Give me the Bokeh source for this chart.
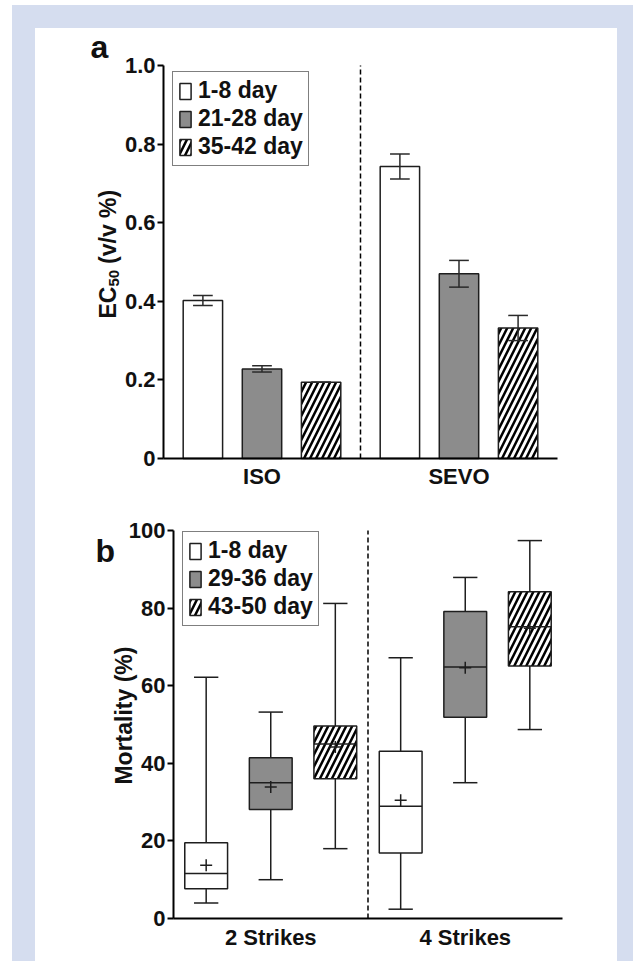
import math
from bokeh.plotting import figure
from bokeh.models import (Range1d, FixedTicker, Legend, LegendItem, Label)
from bokeh.layouts import column
from bokeh.embed import file_html
from bokeh.resources import INLINE

FONT = "Liberation Sans"
EDGE = "#1e1e1e"
GRAY = "#8c8c8c"
FRAME_BG = "#d5ddef"
TXT = "#111111"

# ---------------- Panel a data ----------------
drugs = ["ISO", "SEVO"]
ages_a = ["1-8 day", "21-28 day", "35-42 day"]
ec50_1_8 = [0.402, 0.743]
ec50_21_28 = [0.228, 0.470]
ec50_35_42 = [0.194, 0.332]
sem_1_8 = [0.013, 0.032]
sem_21_28 = [0.008, 0.034]
sem_35_42 = [0.0, 0.032]
ticks_a = [0, 0.2, 0.4, 0.6, 0.8, 1.0]
tick_labels_a = ["0", "0.2", "0.4", "0.6", "0.8", "1.0"]

# ---------------- Panel b data ----------------
strikes = ["2 Strikes", "4 Strikes"]
ages_b = ["1-8 day", "29-36 day", "43-50 day"]
min_1_8 = [4.0, 2.4]
q1_1_8 = [7.7, 16.9]
med_1_8 = [11.6, 28.9]
q3_1_8 = [19.5, 43.1]
max_1_8 = [62.2, 67.2]
mean_1_8 = [13.7, 30.5]
min_29_36 = [10.0, 35.0]
q1_29_36 = [28.1, 51.9]
med_29_36 = [35.0, 64.8]
q3_29_36 = [41.4, 79.1]
max_29_36 = [53.2, 87.9]
mean_29_36 = [33.9, 64.6]
min_43_50 = [18.0, 48.7]
q1_43_50 = [36.0, 65.1]
med_43_50 = [45.0, 75.2]
q3_43_50 = [49.6, 84.2]
max_43_50 = [81.2, 97.4]
mean_43_50 = [44.2, 74.8]
ticks_b = [0, 20, 40, 60, 80, 100]

fills = ["white", GRAY, "white"]
hatches = [None, None, "/"]

groups = list(range(len(drugs)))
g_lo, g_hi = groups[0] - 0.5, groups[-1] + 0.5
divider = (groups[0] + groups[-1]) / 2


def style_axes(p, ticks, labels=None):
    p.xaxis.fixed_location = ticks[0]
    p.xaxis.bounds = (g_lo, g_hi)
    p.xaxis.ticker = FixedTicker(ticks=groups)
    p.xaxis.major_tick_line_color = None
    p.xaxis.minor_tick_line_color = None
    p.xaxis.axis_line_width = 2
    p.xaxis.axis_line_color = "black"
    p.xaxis.major_label_text_font = FONT
    p.xaxis.major_label_text_font_style = "bold"
    p.xaxis.major_label_text_font_size = "22px"
    p.xaxis.major_label_text_color = TXT
    p.xaxis.major_label_standoff = 0
    p.yaxis.fixed_location = g_lo
    p.yaxis.bounds = (ticks[0], ticks[-1])
    p.yaxis.ticker = FixedTicker(ticks=ticks)
    p.yaxis.minor_tick_line_color = None
    p.yaxis.major_tick_in = 0
    p.yaxis.major_tick_out = 6
    p.yaxis.major_tick_line_width = 2
    p.yaxis.axis_line_width = 2
    p.yaxis.axis_line_color = "black"
    p.yaxis.major_label_text_font = FONT
    p.yaxis.major_label_text_font_style = "bold"
    p.yaxis.major_label_text_font_size = "22px"
    p.yaxis.major_label_text_color = TXT
    p.yaxis.major_label_standoff = 2
    if labels is not None:
        p.yaxis.major_label_overrides = {t: l for t, l in zip(ticks, labels)}
    p.xgrid.visible = False
    p.ygrid.visible = False
    p.outline_line_color = None


def make_legend(p, items, loc):
    lg = Legend(items=items, location=loc, padding=5, margin=0,
                spacing=1, glyph_width=14, glyph_height=20, label_standoff=6,
                label_height=25, label_text_font=FONT, label_text_font_style="bold",
                label_text_font_size="23px", label_text_color=TXT,
                border_line_color="black", border_line_width=1.5,
                background_fill_color="white", background_fill_alpha=1.0)
    p.add_layout(lg)


def txt(p, x, y, text, size, angle=0.0, align="left"):
    p.add_layout(Label(x=x, y=y, text=text, angle=angle, text_font=FONT,
                       text_font_style="bold", text_font_size=size,
                       text_color=TXT, text_align=align,
                       text_baseline="alphabetic"))


def new_fig(h, xr, yr):
    return figure(width=582, height=h, output_backend="svg", toolbar_location=None,
                  x_range=Range1d(*xr), y_range=Range1d(*yr),
                  min_border_left=0, min_border_right=0, min_border_top=0,
                  min_border_bottom=0, background_fill_color="white",
                  border_fill_color="white")


# ---------------- Panel a ----------------
p1 = new_fig(472, (-1.1497, 1.8046), (-0.1069, 1.0941))
style_axes(p1, ticks_a, tick_labels_a)
p1.xaxis.major_label_overrides = {g: d for g, d in zip(groups, drugs)}

offs_a = [-0.3, 0.0, 0.3]
vals_a = [ec50_1_8, ec50_21_28, ec50_35_42]
errs_a = [sem_1_8, sem_21_28, sem_35_42]
cap_a = 0.05
items_a = []
for i in range(3):
    xs = [g + offs_a[i] for g in groups]
    kw = dict(fill_color=fills[i], line_color=EDGE, line_width=1.5)
    if hatches[i]:
        kw.update(hatch_pattern=hatches[i], hatch_color="black",
                  hatch_scale=12, hatch_weight=2.5)
    r = p1.vbar(x=xs, top=vals_a[i], width=0.2, bottom=0, **kw)
    items_a.append(LegendItem(label=ages_a[i], renderers=[r]))
    up = [v + e for v, e in zip(vals_a[i], errs_a[i])]
    lo = [v - e for v, e in zip(vals_a[i], errs_a[i])]
    p1.segment(x0=xs, y0=lo, x1=xs, y1=up, line_color="#2a2a2a", line_width=1.5)
    for yy in (up, lo):
        p1.segment(x0=[x - cap_a for x in xs], y0=yy, x1=[x + cap_a for x in xs],
                   y1=yy, line_color="#2a2a2a", line_width=1.5)

p1.segment(x0=[divider], y0=[ticks_a[0]], x1=[divider], y1=[ticks_a[-1]],
           line_color="black", line_width=1.5, line_dash="5 3")
make_legend(p1, items_a, (137, 334))
txt(p1, -0.8706, 1.046, "a", "32px")
txt(p1, -0.780, 0.3562, "EC", "23px", math.pi / 2)
txt(p1, -0.752, 0.4377, "50", "15px", math.pi / 2)
txt(p1, -0.780, 0.4950, "(v/v %)", "23px", math.pi / 2)

# ---------------- Panel b ----------------
p2 = new_fig(461, (-1.2095, 1.7828), (-11.08, 107.73))
style_axes(p2, ticks_b)
p2.xaxis.major_label_overrides = {g: s for g, s in zip(groups, strikes)}

offs_b = [-0.332, 0.0, 0.332]
box_w = 0.22
cap_w = 0.125
mins = [min_1_8, min_29_36, min_43_50]
q1s = [q1_1_8, q1_29_36, q1_43_50]
meds = [med_1_8, med_29_36, med_43_50]
q3s = [q3_1_8, q3_29_36, q3_43_50]
maxs = [max_1_8, max_29_36, max_43_50]
means = [mean_1_8, mean_29_36, mean_43_50]
items_b = []
for i in range(3):
    xs = [g + offs_b[i] for g in groups]
    p2.segment(x0=xs, y0=q3s[i], x1=xs, y1=maxs[i], line_color=EDGE, line_width=1.5)
    p2.segment(x0=xs, y0=q1s[i], x1=xs, y1=mins[i], line_color=EDGE, line_width=1.5)
    for yy in (maxs[i], mins[i]):
        p2.segment(x0=[x - cap_w / 2 for x in xs], y0=yy,
                   x1=[x + cap_w / 2 for x in xs], y1=yy, line_color=EDGE, line_width=1.5)
    kw = dict(fill_color=fills[i], line_color=EDGE, line_width=1.5)
    if hatches[i]:
        kw.update(hatch_pattern=hatches[i], hatch_color="black",
                  hatch_scale=12, hatch_weight=2.5)
    r = p2.vbar(x=xs, top=q3s[i], bottom=q1s[i], width=box_w, **kw)
    items_b.append(LegendItem(label=ages_b[i], renderers=[r]))
    p2.segment(x0=[x - box_w / 2 for x in xs], y0=meds[i],
               x1=[x + box_w / 2 for x in xs], y1=meds[i], line_color=EDGE, line_width=1.5)
    p2.scatter(x=xs, y=means[i], marker="cross", size=12, line_color=EDGE, line_width=1.5)

p2.segment(x0=[divider], y0=[ticks_b[0]], x1=[divider], y1=[ticks_b[-1]],
           line_color="black", line_width=1.5, line_dash="5 3")
make_legend(p2, items_b, (147, 335))
txt(p2, -0.901, 94.6, "b", "32px")
txt(p2, -0.757, 52.3, "Mortality (%)", "23px", math.pi / 2, "center")

inner = column(p1, p2, spacing=0, styles={"background-color": "white"})
inner.margin = (23, 16, 0, 23)
layout = column(inner, spacing=0, styles={"background-color": FRAME_BG})
layout.margin = (5, 0, 0, 12)
open("out.html", "w").write(file_html(layout, INLINE))
